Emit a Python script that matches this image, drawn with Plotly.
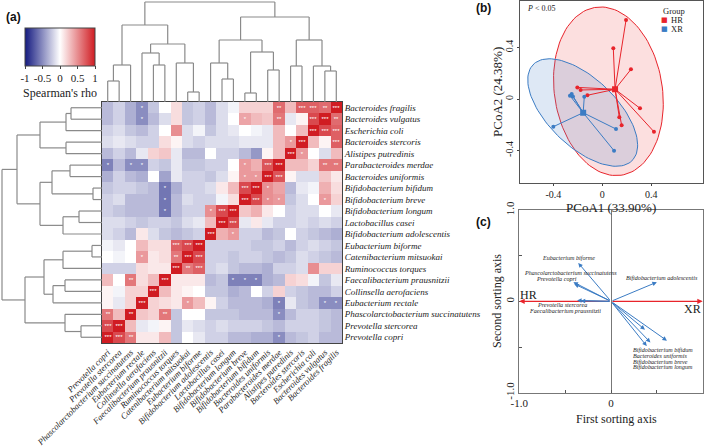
import numpy as np
import plotly.graph_objects as go

# ---------------- DATA ----------------
species = ["Bacteroides fragilis", "Bacteroides vulgatus", "Escherichia coli", "Bacteroides stercoris",
           "Alistipes putredinis", "Parabacteroides merdae", "Bacteroides uniformis", "Bifidobacterium bifidum",
           "Bifidobacterium breve", "Bifidobacterium longum", "Lactobacillus casei", "Bifidobacterium adolescentis",
           "Eubacterium biforme", "Catenibacterium mitsuokai", "Ruminococcus torques", "Faecalibacterium prausnitzii",
           "Collinsella aerofaciens", "Eubacterium rectale", "Phascolarctobacterium succinatutens",
           "Prevotella stercorea", "Prevotella copri"]
col_species = species[::-1]

# Spearman's rho, rows = species (top->bottom), columns = col_species (left->right)
rho = [
    [-0.3,-0.2,-0.35,-0.5,-0.25,0.0,0.15,-0.25,-0.2,-0.3,-0.15,-0.05,0.2,0.2,0.2,0.65,0.3,0.7,0.7,0.65,1.0],
    [-0.3,-0.2,-0.35,-0.5,-0.3,-0.15,0.15,-0.25,-0.2,-0.3,-0.15,0.0,0.4,0.3,0.25,0.6,-0.1,0.05,0.8,1.0,0.65],
    [-0.2,-0.15,-0.25,-0.3,-0.2,0.0,0.5,-0.15,-0.05,-0.25,-0.15,-0.1,0.0,-0.05,-0.1,0.3,0.0,0.3,1.0,0.8,0.7],
    [-0.15,-0.1,-0.15,-0.2,-0.2,0.15,0.05,-0.15,-0.2,-0.15,-0.15,-0.15,-0.1,-0.1,-0.1,0.3,0.45,1.0,0.3,0.05,0.7],
    [-0.3,-0.2,-0.3,-0.1,0.2,0.25,-0.1,-0.3,-0.3,0.0,-0.2,-0.2,-0.3,-0.45,0.05,0.3,1.0,0.45,0.0,-0.15,0.3],
    [-0.55,-0.3,-0.5,-0.5,-0.2,-0.25,-0.1,-0.25,-0.25,-0.2,-0.2,0.0,0.45,0.35,0.75,1.0,0.3,0.3,0.2,0.6,0.6],
    [-0.35,-0.2,-0.3,-0.35,0.0,-0.4,-0.1,-0.2,-0.2,-0.25,-0.15,0.05,0.45,0.45,1.0,0.75,0.05,-0.15,-0.15,0.25,0.1],
    [-0.25,-0.2,-0.2,-0.25,-0.3,-0.6,-0.35,-0.2,-0.2,-0.15,0.1,0.3,0.8,1.0,0.5,0.4,-0.3,-0.1,-0.05,0.35,0.15],
    [-0.2,-0.15,-0.3,-0.3,-0.3,-0.6,-0.3,-0.15,-0.2,-0.2,-0.05,0.15,1.0,0.8,0.5,0.45,-0.25,-0.15,0.0,0.45,0.2],
    [-0.2,-0.25,-0.3,-0.3,-0.3,-0.6,-0.3,-0.2,-0.2,0.5,0.8,1.0,0.25,0.35,0.1,0.0,-0.2,-0.15,-0.15,0.0,-0.1],
    [-0.15,-0.15,-0.2,-0.25,-0.2,-0.2,-0.25,-0.15,-0.1,0.3,1.0,0.8,-0.1,0.1,-0.1,-0.2,-0.2,-0.15,-0.2,-0.15,-0.2],
    [-0.15,-0.2,-0.3,0.1,-0.15,-0.25,-0.3,-0.25,-0.2,1.0,0.35,0.45,-0.2,-0.2,-0.3,-0.25,0.0,-0.2,-0.25,-0.3,-0.35],
    [-0.05,-0.1,0.0,0.3,0.15,0.15,0.7,0.8,1.0,-0.2,-0.2,-0.2,-0.2,-0.25,-0.25,-0.2,-0.3,-0.2,-0.15,-0.2,-0.25],
    [0.0,-0.05,0.0,0.45,0.1,0.15,0.6,1.0,0.8,-0.2,-0.2,-0.25,-0.2,-0.2,-0.25,-0.3,-0.25,-0.15,-0.2,-0.25,-0.3],
    [-0.2,-0.2,-0.2,0.15,0.1,0.1,1.0,0.6,0.7,-0.2,-0.15,-0.25,-0.3,-0.3,-0.35,-0.2,-0.2,-0.15,0.5,0.2,0.2],
    [0.3,0.0,0.6,0.15,0.3,1.0,0.1,0.1,0.1,-0.3,-0.25,-0.55,-0.55,-0.55,-0.35,-0.3,0.2,0.15,-0.05,-0.25,-0.1],
    [0.05,-0.05,0.2,0.2,1.0,0.3,0.1,0.05,0.0,-0.25,-0.25,-0.35,-0.3,0.0,-0.2,0.2,-0.2,-0.25,-0.3,-0.3,-0.2],
    [0.05,-0.1,0.2,1.0,0.2,0.15,0.1,0.45,0.3,0.05,-0.2,-0.3,-0.3,-0.3,-0.35,-0.55,-0.1,-0.25,-0.3,-0.5,-0.5],
    [0.6,0.3,1.0,0.25,0.2,0.6,-0.25,0.0,0.0,-0.25,-0.25,-0.25,-0.3,-0.3,-0.3,-0.5,-0.3,-0.2,-0.2,-0.25,-0.3],
    [0.8,1.0,0.3,-0.1,-0.05,0.05,-0.25,-0.1,-0.15,-0.2,-0.15,-0.2,-0.2,-0.2,-0.25,-0.3,-0.2,-0.2,-0.2,-0.25,-0.3],
    [1.0,0.8,0.6,0.1,0.1,0.3,-0.25,0.0,-0.1,-0.2,-0.2,-0.3,-0.3,-0.35,-0.35,-0.5,-0.3,-0.25,-0.2,-0.3,-0.3],
]
# significance level per cell (number of stars)
stars = [
    "000100000000000203323",
    "000100000000100200332",
    "000000000000000000333",
    "000000000000000013003",
    "000000000000000031000",
    "101100000000103300022",
    "000000000000113300000",
    "000001000000331000000",
    "000001000000331100010",
    "000001000133000000000",
    "000000000033000000000",
    "000000000301000000000",
    "000000333000000000000",
    "000100233000000000000",
    "000000323000000000000",
    "002003000001110000000",
    "000030000000000000000",
    "000300010000000100011",
    "202002000000000100000",
    "330000000000000000000",
    "332000000000000100000",
]
# hierarchical clustering: (child_a, child_b, height); leaves are species indices, internal nodes 21+k
merges = [
    (7, 8, 9), (12, 13, 10), (19, 20, 21), (9, 10, 23), (0, 1, 31), (5, 6, 32),
    (25, 2, 36), (3, 4, 36), (15, 16, 37), (18, 23, 37), (24, 11, 39), (22, 14, 39),
    (29, 17, 49), (26, 21, 50), (32, 33, 58), (27, 28, 62), (34, 31, 62), (30, 35, 77),
    (36, 37, 85), (39, 38, 100),
]
cbar_ticks = [-1, -0.5, 0, 0.5, 1]
cbar_ticktext = ["-1", "-0.5", "0", "0.5", "1"]

# PCoA (b)
hr_x = [0.194, 0.09, 0.234, -0.204, -0.177, -0.122, 0.308, 0.139, 0.158, 0.422]
hr_y = [0.613, 0.394, 0.23, 0.09, 0.07, 0.029, -0.072, -0.142, -0.204, -0.254]
xr_x = [-0.264, -0.25, -0.24, -0.147, -0.4, 0.112, 0.096]
xr_y = [0.026, 0.039, 0.02, 0.018, -0.215, -0.233, -0.401]
hr_ellipse = dict(cx=0.05, cy=0.06, a=0.66, b=0.44, theta=100)
xr_ellipse = dict(cx=-0.16, cy=-0.105, a=0.55, b=0.27, theta=-41.6)
groups = ["HR", "XR"]

# Sorting (c)
c_species = ["Eubacterium biforme", "Phascolarctobacterium succinatutens", "Prevotella copri",
             "Prevotella stercorea", "Faecalibacterium prausnitzii", "Bifidobacterium adolescentis",
             "Bifidobacterium bifidum", "Bacteroides uniformis", "Bifidobacterium breve", "Bifidobacterium longum"]
c_x = [-0.357, -0.41, -0.40, -0.37, -0.33, 0.50, 0.61, 0.37, 0.43, 0.39]
c_y = [0.42, 0.21, 0.19, 0.01, 0.005, 0.21, -0.43, -0.31, -0.45, -0.49]
c_group_x = [-1.0, 1.0]
c_group_y = [0.0, 0.0]

# ---------------- LAYOUT HELPERS ----------------
W, H = 709, 448
def fx(px): return px / W
def fy(py): return 1 - py / H

SERIF = "Liberation Serif, Times New Roman, serif"
SANS = "Liberation Sans, Arial, sans-serif"
RED = "#e8242b"
BLUE = "#3b7cc4"
DGRAY = "#8a8a8a"
TXT = "#222"

fig = go.Figure()

# ---------------- (a) heatmap ----------------
n = len(species)
text = [["*" * int(ch) for ch in row] for row in stars]
colorscale = [[0, "rgb(20,26,128)"], [0.5, "rgb(255,255,255)"], [1, "rgb(208,28,34)"]]
fig.add_trace(go.Heatmap(
    z=rho, x=list(range(n)), y=list(range(n)), text=text, texttemplate="%{text}",
    textfont=dict(size=6, color="white", family=SANS),
    colorscale=colorscale, zmin=-1, zmax=1, xaxis="x", yaxis="y", hoverinfo="skip",
    colorbar=dict(orientation="h", x=fx(60), xanchor="center", y=fy(28), yanchor="top",
                  len=70, lenmode="pixels", thickness=38, thicknessmode="pixels",
                  xpad=0, ypad=0, outlinecolor="#444", outlinewidth=1,
                  tickvals=cbar_ticks, ticktext=cbar_ticktext, ticks="outside", ticklen=3,
                  tickcolor="#444", tickfont=dict(family=SERIF, size=11, color=TXT),
                  title=dict(text="Spearman's rho", side="bottom",
                             font=dict(family=SERIF, size=12, color=TXT)))))

# dendrograms
def dendro(merges, leaf_pos):
    pos = {i: leaf_pos(i) for i in range(n)}
    hgt = {i: 0.0 for i in range(n)}
    segs = []
    for k, (a, b, h) in enumerate(merges):
        for c in (a, b):
            segs.append((pos[c], hgt[c], pos[c], h))
        segs.append((pos[a], h, pos[b], h))
        pos[n + k] = (pos[a] + pos[b]) / 2
        hgt[n + k] = h
    return segs

top = dendro(merges, lambda i: n - 1 - i)
tx, ty = [], []
for p0, h0, p1, h1 in top:
    tx += [p0, p1, None]; ty += [h0, h1, None]
fig.add_trace(go.Scatter(x=tx, y=ty, mode="lines", line=dict(color=DGRAY, width=1.2),
                         xaxis="x2", yaxis="y2", showlegend=False, hoverinfo="skip"))
left = dendro(merges, lambda i: i)
lx, ly = [], []
for p0, h0, p1, h1 in left:
    lx += [h0, h1, None]; ly += [p0, p1, None]
fig.add_trace(go.Scatter(x=lx, y=ly, mode="lines", line=dict(color=DGRAY, width=1.2),
                         xaxis="x3", yaxis="y3", showlegend=False, hoverinfo="skip"))

# ---------------- (b) PCoA ----------------
def ellipse(e, m=120):
    t = np.linspace(0, 2 * np.pi, m)
    th = np.deg2rad(e["theta"])
    ex = e["cx"] + e["a"] * np.cos(t) * np.cos(th) - e["b"] * np.sin(t) * np.sin(th)
    ey = e["cy"] + e["a"] * np.cos(t) * np.sin(th) + e["b"] * np.sin(t) * np.cos(th)
    return ex, ey

for e, lc, fc in [(hr_ellipse, RED, "rgba(240,110,110,0.22)"), (xr_ellipse, BLUE, "rgba(90,140,205,0.20)")]:
    ex, ey = ellipse(e)
    fig.add_trace(go.Scatter(x=ex, y=ey, mode="lines", fill="toself", fillcolor=fc,
                             line=dict(color=lc, width=1), xaxis="x4", yaxis="y4",
                             showlegend=False, hoverinfo="skip"))

for name, xs, ys, col in [(groups[0], hr_x, hr_y, RED), (groups[1], xr_x, xr_y, BLUE)]:
    cx, cy = float(np.mean(xs)), float(np.mean(ys))
    sx, sy = [], []
    for a, b in zip(xs, ys):
        sx += [cx, a, None]; sy += [cy, b, None]
    fig.add_trace(go.Scatter(x=sx, y=sy, mode="lines", line=dict(color=col, width=1),
                             xaxis="x4", yaxis="y4", showlegend=False, hoverinfo="skip"))
    fig.add_trace(go.Scatter(x=xs, y=ys, mode="markers", marker=dict(color=col, size=4),
                             xaxis="x4", yaxis="y4", showlegend=False, hoverinfo="skip"))
    fig.add_trace(go.Scatter(x=[cx], y=[cy], mode="markers", marker=dict(color=col, size=6, symbol="square"),
                             xaxis="x4", yaxis="y4", showlegend=False, hoverinfo="skip"))

# ---------------- (c) sorting ----------------
fig.add_trace(go.Scatter(x=[None], y=[None], xaxis="x5", yaxis="y5", showlegend=False))

annotations = []
for gx, gy in zip(c_group_x, c_group_y):
    annotations.append(dict(x=gx, y=gy, xref="x5", yref="y5", ax=0, ay=0, axref="x5", ayref="y5",
                            showarrow=True, arrowhead=2, arrowsize=0.9, arrowwidth=1.2,
                            arrowcolor=RED, text=""))
for sx_, sy_ in zip(c_x, c_y):
    annotations.append(dict(x=sx_, y=sy_, xref="x5", yref="y5", ax=0, ay=0, axref="x5", ayref="y5",
                            showarrow=True, arrowhead=2, arrowsize=0.9, arrowwidth=1,
                            arrowcolor=BLUE, text=""))

c_label_pos = [(-0.466, 0.474, "center"), (-0.447, 0.315, "center"), (-0.592, 0.245, "center"),
               (-0.538, -0.044, "center"), (-0.502, -0.106, "center"), (0.553, 0.255, "center"),
               (0.215, -0.537, "left"), (0.215, -0.599, "left"), (0.215, -0.661, "left"), (0.215, -0.723, "left")]
for name, (lx_, ly_, al) in zip(c_species, c_label_pos):
    annotations.append(dict(x=lx_, y=ly_, xref="x5", yref="y5", text="<i>%s</i>" % name, showarrow=False,
                            xanchor=al, yanchor="middle", font=dict(family=SERIF, size=6.1, color=TXT)))
annotations.append(dict(x=-0.905, y=0.07, xref="x5", yref="y5", text=groups[0], showarrow=False,
                        xanchor="center", yanchor="middle", font=dict(family=SERIF, size=12, color=TXT)))
annotations.append(dict(x=0.89, y=-0.08, xref="x5", yref="y5", text=groups[1], showarrow=False,
                        xanchor="center", yanchor="middle", font=dict(family=SERIF, size=12, color=TXT)))

# panel labels and notes
for lbl, px, py in [("(a)", 4, 17), ("(b)", 474, 8), ("(c)", 474, 222)]:
    annotations.append(dict(x=fx(px), y=fy(py), xref="paper", yref="paper", text="<b>%s</b>" % lbl,
                            showarrow=False, xanchor="left", yanchor="middle",
                            font=dict(family=SANS, size=12, color="#111")))
annotations.append(dict(x=fx(525), y=fy(8), xref="paper", yref="paper", text="<i>P</i> < 0.05",
                        showarrow=False, xanchor="left", yanchor="middle",
                        font=dict(family=SERIF, size=8, color=TXT)))
# legend of (b), drawn as annotations
annotations.append(dict(x=fx(661), y=fy(11), xref="paper", yref="paper", text="Group", showarrow=False,
                        xanchor="left", yanchor="middle", font=dict(family=SERIF, size=8.5, color=TXT)))
for i, (g, col) in enumerate(zip(groups, [RED, BLUE])):
    yy = 20 + 9 * i
    annotations.append(dict(x=fx(664), y=fy(yy), xref="paper", yref="paper", text="\u25a0", showarrow=False,
                            xanchor="center", yanchor="middle", font=dict(family="DejaVu Sans", size=7, color=col)))
    annotations.append(dict(x=fx(669), y=fy(yy), xref="paper", yref="paper", text=g, showarrow=False,
                            xanchor="left", yanchor="middle", font=dict(family=SERIF, size=8.5, color=TXT)))
# axis titles as annotations
annotations.append(dict(x=fx(611), y=fy(207), xref="paper", yref="paper", text="PCoA1 (33.90%)",
                        showarrow=False, xanchor="center", yanchor="middle",
                        font=dict(family=SERIF, size=13, color=TXT)))
annotations.append(dict(x=fx(498), y=fy(92), xref="paper", yref="paper", text="PCoA2 (24.38%)",
                        showarrow=False, xanchor="center", yanchor="middle", textangle=-90,
                        font=dict(family=SERIF, size=13, color=TXT)))
annotations.append(dict(x=fx(616), y=fy(419), xref="paper", yref="paper", text="First sorting axis",
                        showarrow=False, xanchor="center", yanchor="middle",
                        font=dict(family=SERIF, size=12, color=TXT)))
annotations.append(dict(x=fx(497), y=fy(301), xref="paper", yref="paper", text="Second sorting axis",
                        showarrow=False, xanchor="center", yanchor="middle", textangle=-90,
                        font=dict(family=SERIF, size=12, color=TXT)))

tick_all = list(range(n))
fig.update_layout(
    width=W, height=H, margin=dict(l=0, r=0, t=0, b=0, autoexpand=False),
    paper_bgcolor="white", plot_bgcolor="white",
    annotations=annotations,
    showlegend=False,
    xaxis=dict(domain=[fx(102), fx(342)], range=[-0.5, n - 0.5], anchor="y", automargin=False,
               tickvals=tick_all, ticktext=["<i>%s</i>" % s for s in col_species], tickangle=-45,
               tickfont=dict(family=SERIF, size=8.7, color=TXT), ticks="", showgrid=False, zeroline=False,
               showline=True, mirror=True, linecolor="#444", linewidth=1),
    yaxis=dict(domain=[fy(343), fy(102)], range=[n - 0.5, -0.5], anchor="x", side="right", automargin=False,
               tickvals=tick_all, ticktext=["<i>%s</i>" % s for s in species],
               tickfont=dict(family=SERIF, size=9, color=TXT), ticks="", showgrid=False, zeroline=False,
               showline=True, mirror=True, linecolor="#444", linewidth=1),
    xaxis2=dict(domain=[fx(102), fx(342)], range=[-0.5, n - 0.5], anchor="y2", visible=False, automargin=False),
    yaxis2=dict(domain=[fy(102), 1], range=[0, 102], anchor="x2", visible=False, automargin=False),
    xaxis3=dict(domain=[0, fx(102)], range=[102, 0], anchor="y3", visible=False, automargin=False),
    yaxis3=dict(domain=[fy(343), fy(102)], range=[n - 0.5, -0.5], anchor="x3", visible=False, automargin=False),
    xaxis4=dict(domain=[fx(520), fx(702.7)], range=[-0.672, 0.82], anchor="y4", automargin=False,
                tickvals=[-0.4, 0, 0.4], ticktext=["-0.4", "0", "0.4"], ticks="outside", ticklen=2,
                tickcolor="#444", tickfont=dict(family=SERIF, size=10, color=TXT),
                showgrid=False, zeroline=False, showline=True, mirror=True, linecolor="#555", linewidth=1),
    yaxis4=dict(domain=[fy(183), fy(0.7)], range=[-0.652, 0.763], anchor="x4", automargin=False,
                tickvals=[-0.4, 0, 0.4], ticktext=["-0.4", "0", "0.4"], ticks="outside", ticklen=2,
                tickangle=-90, tickcolor="#444", tickfont=dict(family=SERIF, size=10, color=TXT),
                showgrid=False, zeroline=False, showline=True, mirror=True, linecolor="#555", linewidth=1),
    xaxis5=dict(domain=[fx(519.3), fx(702.7)], range=[-1, 1], anchor="y5", automargin=False,
                tickvals=[-1, -0.5, 0, 0.5, 1], ticktext=["-1.0", "", "0", "", "1.0"], ticks="inside", ticklen=3,
                tickcolor="#555", tickfont=dict(family=SERIF, size=11, color=TXT),
                showgrid=False, zeroline=True, zerolinecolor="#777", zerolinewidth=1,
                showline=True, mirror=True, linecolor="#777", linewidth=1),
    yaxis5=dict(domain=[fy(392.7), fy(210)], range=[-1, 1], anchor="x5", automargin=False,
                tickvals=[-1, -0.5, 0, 0.5, 1], ticktext=["-1.0", "", "0", "", "1.0"], ticks="inside", ticklen=3,
                tickangle=-90, tickcolor="#555", tickfont=dict(family=SERIF, size=11, color=TXT),
                showgrid=False, zeroline=False, showline=True, mirror=True, linecolor="#777", linewidth=1),
)

fig.write_html("out.html", config={"displayModeBar": False},
               post_script="document.body.style.margin='0';")
